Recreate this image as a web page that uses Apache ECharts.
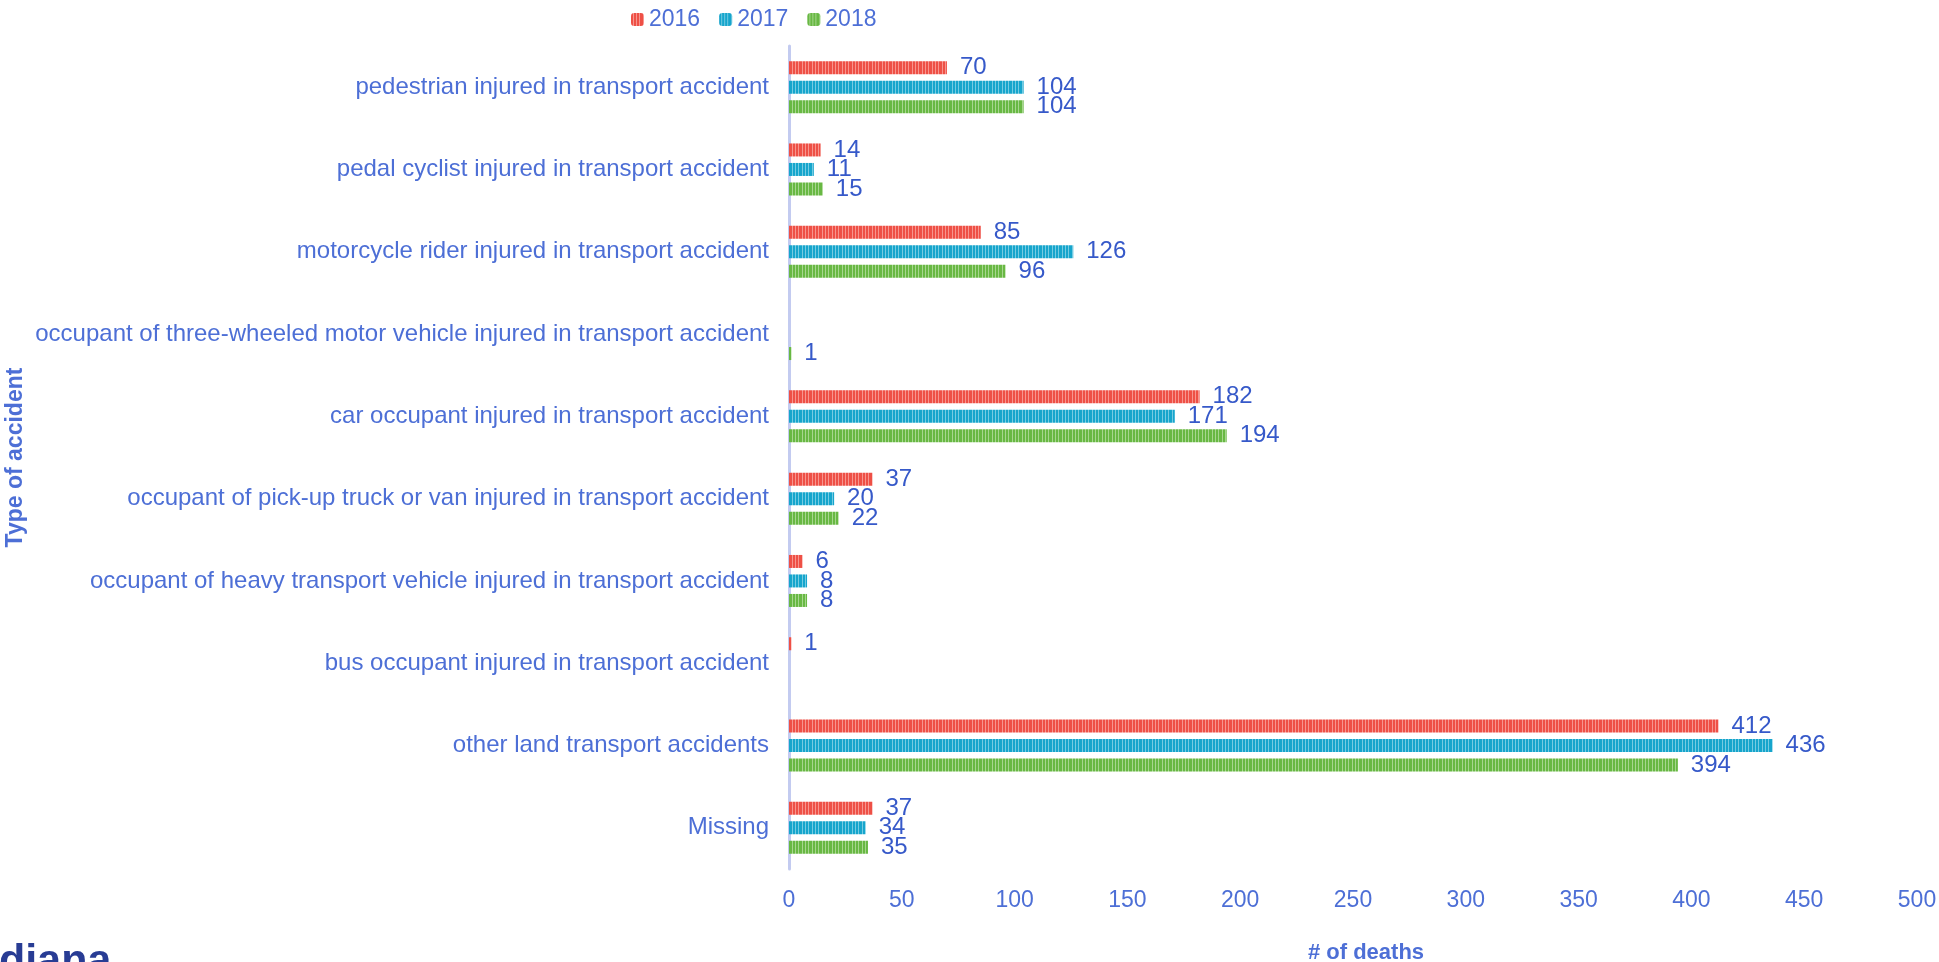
<!DOCTYPE html>
<html>
<head>
<meta charset="utf-8">
<script src="https://cdn.jsdelivr.net/npm/echarts@6/dist/echarts.min.js"></script>
<style>
html,body{margin:0;padding:0;background:#fff;overflow:hidden;}
#chart{width:1939px;height:962px;}
</style>
</head>
<body>
<div id="chart"></div>
<script>
const categories = [
  'pedestrian injured in transport accident',
  'pedal cyclist injured in transport accident',
  'motorcycle rider injured in transport accident',
  'occupant of three-wheeled motor vehicle injured in transport accident',
  'car occupant injured in transport accident',
  'occupant of pick-up truck or van injured in transport accident',
  'occupant of heavy transport vehicle injured in transport accident',
  'bus occupant injured in transport accident',
  'other land transport accidents',
  'Missing'
];
const seriesNames = ['2016', '2017', '2018'];
const values2016 = [70, 14, 85, 0, 182, 37, 6, 1, 412, 37];
const values2017 = [104, 11, 126, 0, 171, 20, 8, 0, 436, 34];
const values2018 = [104, 15, 96, 1, 194, 22, 8, 0, 394, 35];
const xTicks = { min: 0, max: 500, interval: 50 };

function stripe(base, light) {
  const c = document.createElement('canvas');
  c.width = 10; c.height = 4;
  const g = c.getContext('2d');
  g.fillStyle = base; g.fillRect(0, 0, 10, 4);
  g.fillStyle = light;
  [2, 5, 8].forEach(x => g.fillRect(x, 0, 1, 4));
  return { image: c, repeat: 'repeat' };
}
const fills = [
  stripe('#ee5046', '#f7958e'),
  stripe('#16a5cc', '#74cbe2'),
  stripe('#68b843', '#a6d68e')
];
const txt = '#4d6fd6';
const valTxt = '#3659c9';
const font = 'Liberation Sans, Arial, sans-serif';

const chart = echarts.init(document.getElementById('chart'));
const allValues = [values2016, values2017, values2018];
chart.setOption({
  animation: false,
  textStyle: { fontFamily: font },
  legend: {
    left: 626, top: 3,
    itemWidth: 13, itemHeight: 13, itemGap: 19,
    textStyle: { color: txt, fontSize: 23, fontFamily: font },
    data: seriesNames
  },
  grid: { left: 789, right: 22, top: 46, bottom: 93, containLabel: false, outerBoundsMode: 'none' },
  xAxis: {
    type: 'value', min: xTicks.min, max: xTicks.max, interval: xTicks.interval,
    splitLine: { show: false },
    axisLine: { show: false }, axisTick: { show: false },
    axisLabel: { color: txt, fontSize: 23, margin: 20, fontFamily: font },
    name: '# of deaths', nameLocation: 'middle', nameGap: 73, nameMoveOverlap: false,
    nameTextStyle: { color: txt, fontSize: 22, fontWeight: 'bold', fontFamily: font, padding: [0, 0, 0, 26] }
  },
  yAxis: {
    type: 'category', data: categories, inverse: true,
    axisLine: { show: true, lineStyle: { color: '#c3cbf0', width: 3 } },
    axisTick: { show: false },
    axisLabel: { color: txt, fontSize: 24, margin: 20, fontFamily: font },
    name: 'Type of accident', nameLocation: 'middle', nameGap: 762, nameMoveOverlap: false,
    nameTextStyle: { color: txt, fontSize: 23, fontWeight: 'bold', fontFamily: font }
  },
  graphic: [{
    type: 'text', left: -1, top: 941,
    style: { text: 'diana', fill: '#283c94', font: 'bold 43px Liberation Sans, Arial, sans-serif' }
  }],
  series: seriesNames.map((n, i) => ({
    name: n, type: 'bar', data: allValues[i],
    barWidth: 13, barGap: '50%',
    itemStyle: { color: fills[i] },
    label: {
      show: true, position: 'right', distance: 13,
      color: valTxt, fontSize: 24, fontFamily: font,
      formatter: p => (p.value ? String(p.value) : '')
    }
  }))
});
</script>
</body>
</html>
